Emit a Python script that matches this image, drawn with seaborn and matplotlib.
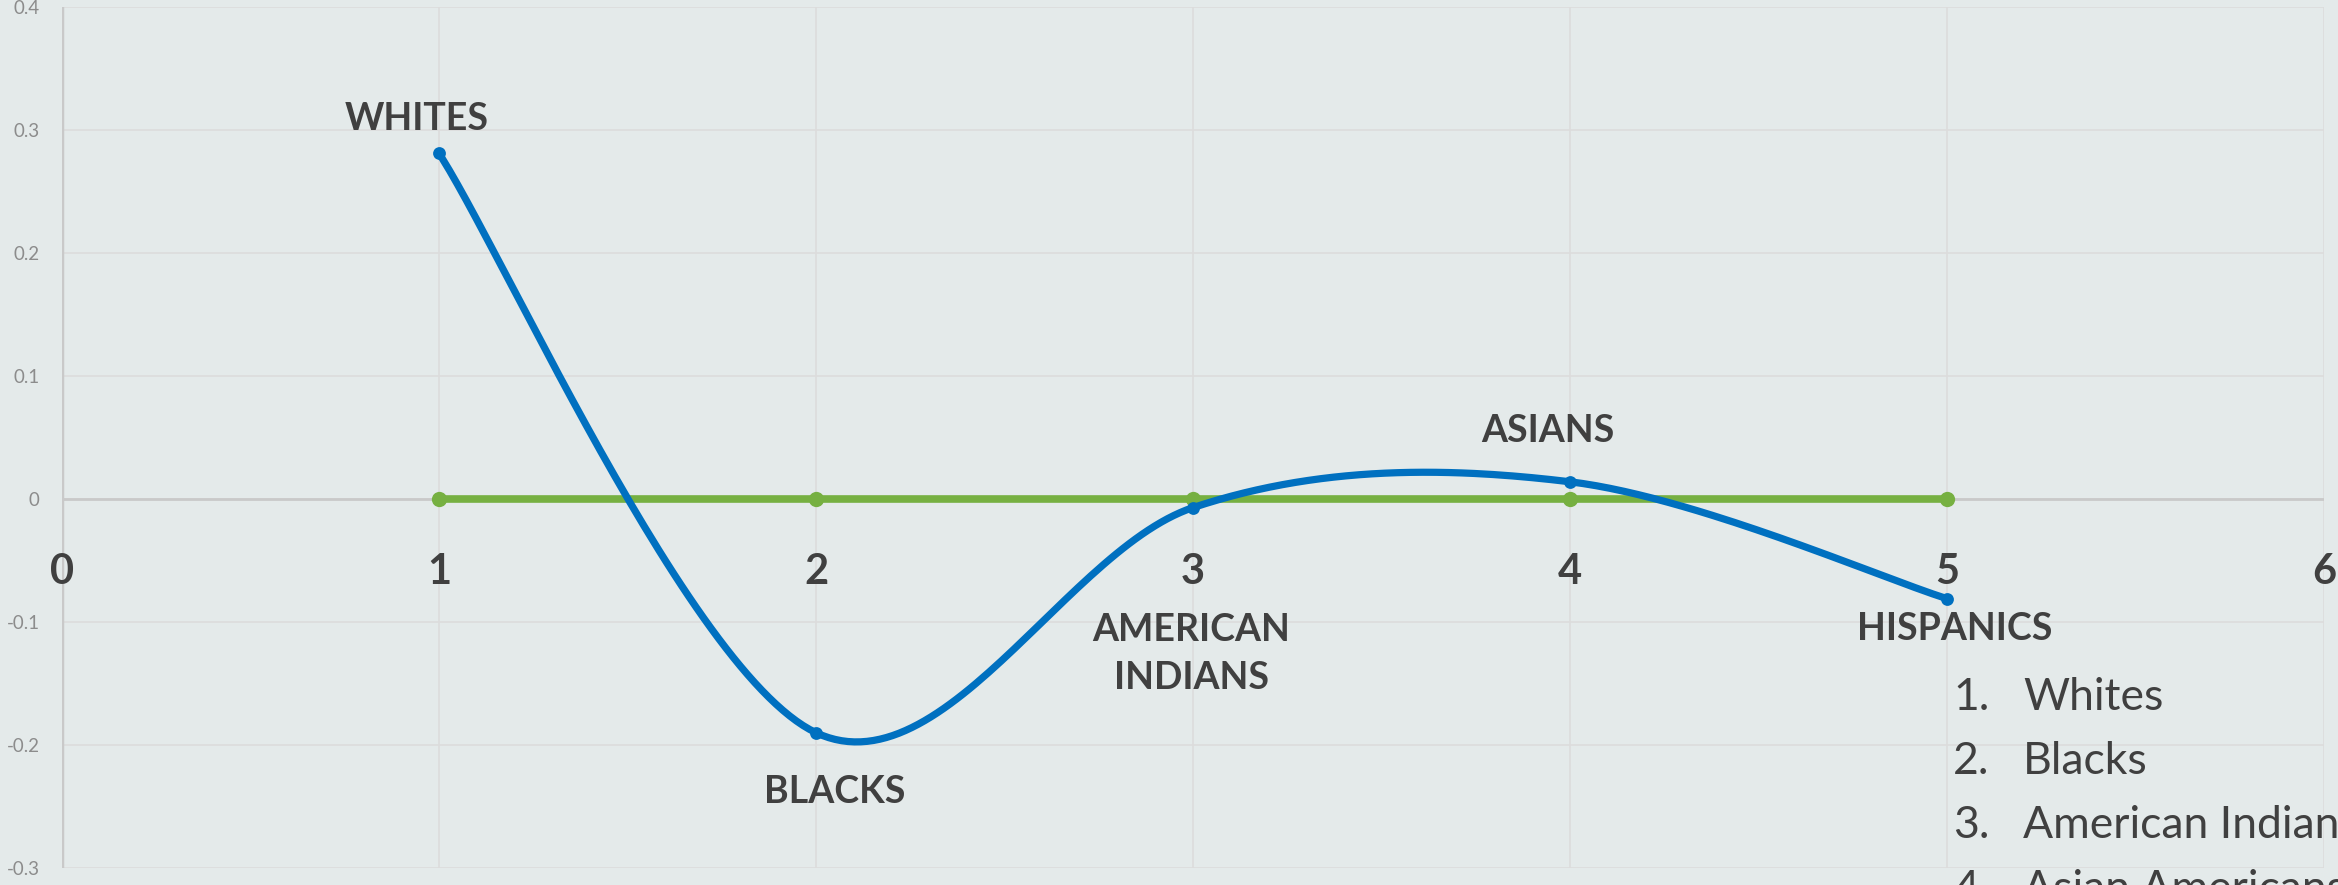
import numpy as np
import pandas as pd
import matplotlib
matplotlib.use("Agg")
import matplotlib.pyplot as plt
import seaborn as sns

# data
groups = ["WHITES", "BLACKS", "AMERICAN\nINDIANS", "ASIANS", "HISPANICS"]
x_pos = [1, 2, 3, 4, 5]
blue_vals = [0.281, -0.190, -0.007, 0.014, -0.081]
green_vals = [0, 0, 0, 0, 0]
label_x = [0.94, 2.05, 2.995, 3.94, 5.02]
label_y = [0.309, -0.238, -0.126, 0.055, -0.106]
x_ticks = [0, 1, 2, 3, 4, 5, 6]
y_ticks = [-0.3, -0.2, -0.1, 0, 0.1, 0.2, 0.3, 0.4]
y_tick_labels = ["-0.3", "-0.2", "-0.1", "0", "0.1", "0.2", "0.3", "0.4"]
legend_items = ["Whites", "Blacks", "American Indians", "Asian Americans", "Hispanics"]

BG = "#e4eaea"
BLUE = "#0070c0"
GREEN = "#76b041"
DARK = "#404040"


def smooth_curve(xs, ys, n=60):
    # Excel-style smoothed line (Catmull-Rom through the points)
    p = np.column_stack([xs, ys]).astype(float)
    p = np.vstack([p[0], p, p[-1]])
    out = []
    t = np.linspace(0, 1, n)[:, None]
    for i in range(1, len(p) - 2):
        p0, p1, p2, p3 = p[i - 1], p[i], p[i + 1], p[i + 2]
        m1 = (p2 - p0) / 2
        m2 = (p3 - p1) / 2
        h00 = 2 * t**3 - 3 * t**2 + 1
        h10 = t**3 - 2 * t**2 + t
        h01 = -2 * t**3 + 3 * t**2
        h11 = t**3 - t**2
        out.append(h00 * p1 + h10 * m1 + h01 * p2 + h11 * m2)
    return np.vstack(out)


sns.set_theme(style="white")
plt.rcParams["font.family"] = ["Lato", "DejaVu Sans"]

fig = plt.figure(figsize=(23.38, 8.85), dpi=100, facecolor=BG)
ax = fig.add_axes([62 / 2338, 1 - 868 / 885, 2262 / 2338, 861 / 885])
ax.set_facecolor(BG)

df = pd.DataFrame({"x": x_pos, "blue": blue_vals, "green": green_vals})

# green series
sns.lineplot(data=df, x="x", y="green", color=GREEN, linewidth=5.5, marker="o",
             markersize=11, markeredgewidth=0, ax=ax, zorder=3)

# blue smoothed series
curve = smooth_curve(x_pos, blue_vals)
ax.plot(curve[:, 0], curve[:, 1], color=BLUE, linewidth=5.2, zorder=4,
        solid_capstyle="round")
sns.scatterplot(data=df, x="x", y="blue", color=BLUE, s=85, linewidth=0,
                ax=ax, zorder=5)

ax.set_xlim(0, 6)
ax.set_ylim(-0.3, 0.4)
ax.set_xticks(x_ticks)
ax.set_xticklabels([])
ax.set_yticks(y_ticks)
ax.set_yticklabels(y_tick_labels)
ax.tick_params(axis="both", length=0)
ax.tick_params(axis="y", labelsize=13.5, labelcolor="#8c8c8c", pad=16)
ax.grid(True, color="#dcdcdc", linewidth=1.2, zorder=0)
ax.set_axisbelow(True)
for s in ax.spines.values():
    s.set_visible(False)
ax.axhline(0, color="#c9c9c9", linewidth=2, zorder=1)
ax.axvline(0, color="#c9c9c9", linewidth=2.5, zorder=1)
ax.set_xlabel("")
ax.set_ylabel("")

# category tick numbers sit just under the zero line
for xt in x_ticks:
    ax.text(xt, -0.059, str(xt), ha="center", va="center", fontsize=30,
            fontweight="bold", color=DARK, zorder=6, clip_on=False)

# data labels
for name, lx, ly in zip(groups, label_x, label_y):
    ax.text(lx, ly, name, ha="center", va="center", fontsize=27,
            fontweight="bold", color=DARK, linespacing=1.5, zorder=6)

# numbered list at bottom right
for i, item in enumerate(legend_items):
    yy = 1 - (698 + 64 * i) / 885
    fig.text(1953 / 2338, yy, f"{i + 1}.", ha="left", va="center",
             fontsize=32, color=DARK)
    fig.text(2023 / 2338, yy, item, ha="left", va="center",
             fontsize=32, color=DARK)

fig.savefig("out.png", dpi=100, facecolor=BG)
